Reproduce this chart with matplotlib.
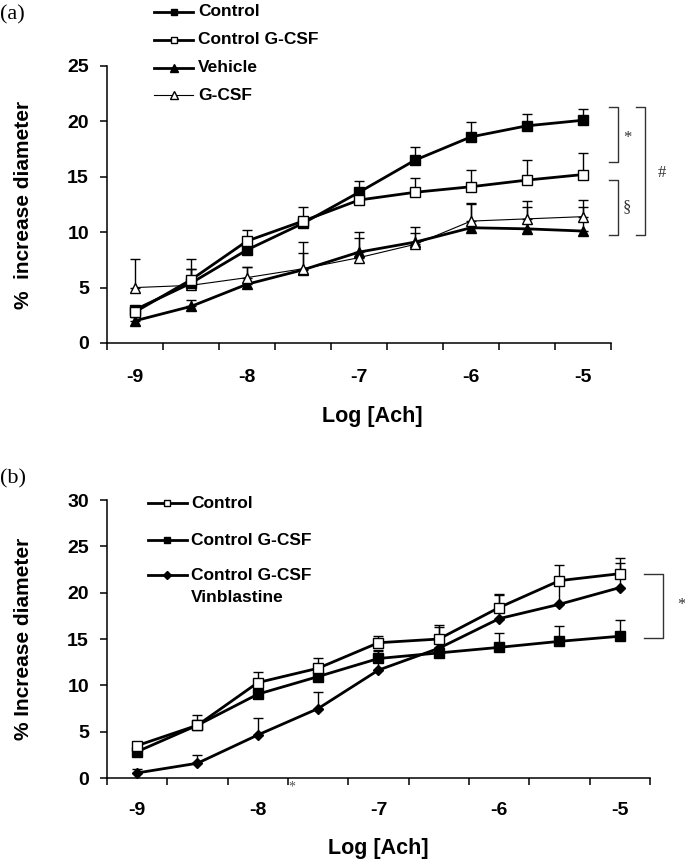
import numpy as np
import matplotlib
matplotlib.use("Agg")
import matplotlib.pyplot as plt
from matplotlib.lines import Line2D

plt.rcParams['font.family'] = ['Liberation Sans', 'DejaVu Sans']
plt.rcParams['font.weight'] = 'bold'

########################################################################
# data (mean and upper error)
log_ach = [-9, -8.5, -8, -7.5, -7, -6.5, -6, -5.5, -5]
xlabels = ['-9', '-8', '-7', '-6', '-5']

# panel (a)
a_control = [3.0, 5.4, 8.4, 10.8, 13.6, 16.5, 18.6, 19.6, 20.1]
a_control_err = [0.3, 1.3, 1.0, 1.5, 1.0, 1.2, 1.3, 1.1, 1.0]
a_cgcsf = [2.8, 5.7, 9.2, 11.0, 12.9, 13.6, 14.1, 14.7, 15.2]
a_cgcsf_err = [0.3, 1.9, 1.0, 0.4, 0.9, 1.3, 1.5, 1.8, 1.9]
a_vehicle = [2.0, 3.3, 5.3, 6.6, 8.2, 9.1, 10.4, 10.3, 10.1]
a_vehicle_err = [0.3, 0.6, 1.6, 1.5, 1.3, 1.4, 2.1, 2.0, 2.2]
a_gcsf = [5.0, 5.2, 5.9, 6.7, 7.7, 8.9, 11.0, 11.2, 11.4]
a_gcsf_err = [2.6, 1.5, 1.0, 2.4, 2.3, 1.0, 1.6, 1.6, 1.5]

# panel (b)
b_control = [3.5, 5.7, 10.3, 11.85, 14.6, 15.0, 18.4, 21.3, 22.05]
b_control_err = [0.3, 1.1, 1.1, 1.15, 0.7, 1.5, 1.5, 1.7, 1.7]
b_cgcsf = [2.85, 5.7, 9.05, 10.95, 12.9, 13.5, 14.1, 14.75, 15.3]
b_cgcsf_err = [0.3, 0.4, 0.5, 0.4, 0.8, 0.5, 1.6, 1.65, 1.75]
b_vinb = [0.55, 1.6, 4.65, 7.5, 11.65, 14.0, 17.2, 18.75, 20.55]
b_vinb_err = [0.4, 0.9, 1.8, 1.75, 2.2, 2.3, 2.6, 2.25, 2.65]

########################################################################
fig = plt.figure(figsize=(6.85, 8.6), dpi=100)
axa = fig.add_axes([0.1562, 0.6012, 0.7358, 0.3221])
axb = fig.add_axes([0.1562, 0.0953, 0.7927, 0.3233])


def series(ax, y, err, marker, face, lw, ms=6.5):
    ax.errorbar(log_ach, y, yerr=[np.zeros(len(err)), err], fmt='none',
                ecolor='black', elinewidth=1.0, capsize=3.5, capthick=1.0,
                zorder=2)
    ax.plot(log_ach, y, color='black', lw=lw, marker=marker, ms=ms,
            mfc=face, mec='black', mew=1.0, zorder=3)


def style(ax, ymax, xpad):
    ax.set_xlim(-9.25, -4.75)
    ax.set_ylim(0, ymax)
    ax.spines['top'].set_visible(False)
    ax.spines['right'].set_visible(False)
    ax.spines['left'].set_linewidth(1.1)
    ax.spines['bottom'].set_linewidth(1.1)
    ax.set_yticks(np.arange(0, ymax + 1, 5))
    ax.set_xticks(np.arange(-9.25, -4.7, 0.5))
    ax.set_xticklabels([])
    ax.set_xticks([-9, -8, -7, -6, -5], minor=True)
    ax.set_xticklabels(xlabels, minor=True)
    ax.tick_params(axis='y', direction='out', length=5, width=1.1, pad=8,
                   labelsize=14)
    ax.tick_params(axis='x', which='major', direction='out', length=5,
                   width=1.1)
    ax.tick_params(axis='x', which='minor', length=0, pad=xpad, labelsize=14)
    for t in ax.get_xticklabels(minor=True) + ax.get_yticklabels():
        t.set_fontweight('bold')


def legend_entry(ax, x0, x1, xt, y, marker, face, lw, label, ms=5):
    ln = Line2D([x0, (x0 + x1) / 2, x1], [y, y, y], transform=ax.transAxes,
                color='black', lw=lw, marker=marker, ms=ms, mfc=face,
                mec='black', mew=1.0, markevery=[1], clip_on=False)
    ax.add_artist(ln)
    ax.text(xt, y, label, transform=ax.transAxes, fontsize=12.5,
            fontweight='bold', va='center', ha='left')


def bracket(ax, x0, x1, y0, y1):
    ax.plot([x0, x1, x1, x0], [y0, y0, y1, y1], color='#333333', lw=1.0,
            clip_on=False)


########################################################################
# (a)
series(axa, a_vehicle, a_vehicle_err, '^', 'black', 2.0, 7.5)
series(axa, a_gcsf, a_gcsf_err, '^', 'white', 0.8, 7.5)
series(axa, a_control, a_control_err, 's', 'black', 2.0)
series(axa, a_cgcsf, a_cgcsf_err, 's', 'white', 2.0)
style(axa, 25, 19)
axa.set_ylabel('%  increase diameter', fontsize=15, fontweight='bold')
axa.yaxis.set_label_coords(-0.147, 0.5)
axa.set_xlabel('Log [Ach]', fontsize=15.5, fontweight='bold')
axa.xaxis.set_label_coords(0.526, -0.267)
axa.xaxis.label.set_va('center')

legend_entry(axa, 0.093, 0.171, 0.181, 1.195, 's', 'black', 2.0, 'Control')
legend_entry(axa, 0.093, 0.171, 0.181, 1.094, 's', 'white', 2.0, 'Control G-CSF')
legend_entry(axa, 0.093, 0.171, 0.181, 0.993, '^', 'black', 2.0, 'Vehicle', 6)
legend_entry(axa, 0.093, 0.171, 0.181, 0.895, '^', 'white', 0.8, 'G-CSF', 6)

bracket(axa, -4.77, -4.69, 21.3, 16.3)
bracket(axa, -4.77, -4.69, 14.7, 9.7)
bracket(axa, -4.53, -4.45, 21.3, 9.7)
axa.text(-4.607, 18.5, '*', family='Liberation Serif', fontsize=12,
         fontweight='normal', ha='center', va='center', color='#333333')
axa.text(-4.607, 12.3, '§', family='Liberation Serif', fontsize=12,
         fontweight='normal', ha='center', va='center', color='#333333')
axa.text(-4.295, 15.3, '#', family='Liberation Serif', fontsize=12,
         fontweight='normal', ha='center', va='center', color='#333333')

fig.text(0.0, 0.983, '(a)', family='Liberation Serif', fontsize=16,
         fontweight='normal', ha='left', va='center')

########################################################################
# (b)
series(axb, b_vinb, b_vinb_err, 'D', 'black', 2.0, 5.5)
series(axb, b_cgcsf, b_cgcsf_err, 's', 'black', 2.0)
series(axb, b_control, b_control_err, 's', 'white', 2.0)
style(axb, 30, 17.5)
axb.set_ylabel('% Increase diameter', fontsize=15, fontweight='bold')
axb.yaxis.set_label_coords(-0.136, 0.5)
axb.set_xlabel('Log [Ach]', fontsize=15.5, fontweight='bold')
axb.xaxis.set_label_coords(0.50, -0.252)
axb.xaxis.label.set_va('center')

legend_entry(axb, 0.0755, 0.147, 0.155, 0.989, 's', 'white', 2.0, 'Control')
legend_entry(axb, 0.0755, 0.147, 0.155, 0.856, 's', 'black', 2.0, 'Control G-CSF')
legend_entry(axb, 0.0755, 0.147, 0.155, 0.730, 'D', 'black', 2.0, 'Control G-CSF', 4.5)
axb.text(0.155, 0.651, 'Vinblastine', transform=axb.transAxes, fontsize=12.5,
         fontweight='bold', va='center', ha='left')

bracket(axb, -4.80, -4.64, 22.05, 15.06)
axb.text(-4.49, 18.7, '*', family='Liberation Serif', fontsize=12,
         fontweight='normal', ha='center', va='center', color='#333333',
         clip_on=False)
axb.text(-7.716, -0.97, '*', family='Liberation Serif', fontsize=10,
         fontweight='normal', ha='center', va='center', color='#555555',
         clip_on=False)

fig.text(0.0, 0.443, '(b)', family='Liberation Serif', fontsize=16,
         fontweight='normal', ha='left', va='center')

fig.savefig('out.png', dpi=100)
